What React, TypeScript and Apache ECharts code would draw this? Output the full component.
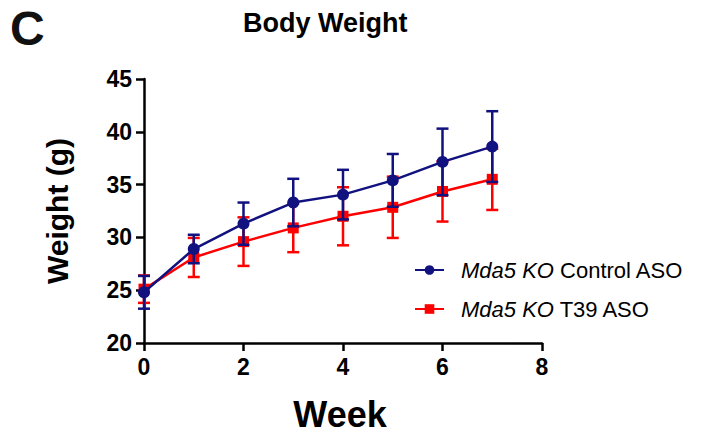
import React, { useEffect, useRef } from "react";
import * as echarts from "echarts";

const weeks = [0, 1, 2, 3, 4, 5, 6, 7];
const controlMean = [24.8, 28.9, 31.3, 33.3, 34.05, 35.4, 37.15, 38.6];
const controlSD = [1.55, 1.35, 2.0, 2.25, 2.35, 2.5, 3.15, 3.35];
const t39Mean = [25.1, 28.1, 29.6, 30.9, 32.0, 32.85, 34.35, 35.5];
const t39SD = [1.3, 1.85, 2.3, 2.3, 2.75, 2.9, 2.85, 2.9];
const yTicks = { min: 20, max: 45, interval: 5 };
const xTicks = { min: 0, max: 8, interval: 2 };

const seriesNames = ["Mda5 KO Control ASO", "Mda5 KO T39 ASO"];
const BLUE = "#11117f";
const RED = "#ff0000";
const FONT = "Liberation Sans, Arial, sans-serif";

function errData(mean: number[], sd: number[]) {
  return weeks.map((w, i) => [w, mean[i] - sd[i], mean[i] + sd[i]]);
}

function errRender(color: string) {
  return (params: any, api: any) => {
    const x = api.value(0);
    const lo = api.coord([x, api.value(1)]);
    const hi = api.coord([x, api.value(2)]);
    const cap = 6;
    const style = { stroke: color, lineWidth: 2.5 };
    return {
      type: "group",
      children: [
        { type: "line", shape: { x1: lo[0], y1: lo[1], x2: hi[0], y2: hi[1] }, style },
        { type: "line", shape: { x1: lo[0] - cap, y1: lo[1], x2: lo[0] + cap, y2: lo[1] }, style },
        { type: "line", shape: { x1: hi[0] - cap, y1: hi[1], x2: hi[0] + cap, y2: hi[1] }, style },
      ],
    };
  };
}

export default function App() {
  const ref = useRef<HTMLDivElement>(null);
  useEffect(() => {
    if (!ref.current) return;
    const chart = echarts.init(ref.current, undefined, { renderer: "svg" });
    const axisCommon = {
      axisLine: { show: true, lineStyle: { color: "#000", width: 2.5 } },
      axisTick: { show: true, length: 8, lineStyle: { color: "#000", width: 2.5 } },
      splitLine: { show: false },
      axisLabel: { color: "#000", fontSize: 23, fontWeight: "bold", fontFamily: FONT, margin: 12 },
      nameTextStyle: { color: "#000", fontWeight: "bold", fontFamily: FONT },
    };
    chart.setOption({
      animation: false,
      backgroundColor: "#fff",
      title: [
        { text: "C", left: 10, top: 4, padding: 0, textStyle: { fontSize: 48, fontWeight: "bold", fontFamily: FONT, color: "#111" } },
        { text: "Body Weight", left: 243, top: 9, padding: 0, textStyle: { fontSize: 27, fontWeight: "bold", fontFamily: FONT, color: "#000" } },
      ],
      grid: { left: 144, top: 79, width: 398, height: 265, containLabel: false },
      xAxis: {
        type: "value",
        min: xTicks.min,
        max: xTicks.max,
        interval: xTicks.interval,
        name: "Week",
        nameLocation: "middle",
        nameGap: 53,
        ...axisCommon,
        nameTextStyle: { ...axisCommon.nameTextStyle, fontSize: 36, padding: [0, 6, 0, 0] },
      },
      yAxis: {
        type: "value",
        min: yTicks.min,
        max: yTicks.max,
        interval: yTicks.interval,
        name: "Weight (g)",
        nameLocation: "middle",
        nameGap: 72,
        ...axisCommon,
        nameTextStyle: { ...axisCommon.nameTextStyle, fontSize: 30 },
      },
      legend: {
        orient: "vertical",
        left: 414,
        top: 259,
        padding: 0,
        itemGap: 17,
        itemWidth: 29,
        itemHeight: 12,
        data: seriesNames,
        formatter: (name: string) => `{s|}{i|Mda5 KO}${name.replace("Mda5 KO", "")}`,
        textStyle: {
          color: "#000",
          fontSize: 22,
          fontFamily: FONT,
          rich: {
            s: { width: 12 },
            i: { fontStyle: "italic", fontSize: 22, fontFamily: FONT, color: "#000" },
          },
        },
      },
      series: [
        {
          type: "custom",
          name: "t39err",
          renderItem: errRender(RED),
          data: errData(t39Mean, t39SD),
          encode: { x: 0, y: [1, 2] },
          z: 2,
        },
        {
          type: "line",
          name: seriesNames[1],
          data: weeks.map((w, i) => [w, t39Mean[i]]),
          symbol: "rect",
          symbolSize: 11,
          itemStyle: { color: RED },
          lineStyle: { color: RED, width: 2.5 },
          z: 3,
        },
        {
          type: "custom",
          name: "ctrlerr",
          renderItem: errRender(BLUE),
          data: errData(controlMean, controlSD),
          encode: { x: 0, y: [1, 2] },
          z: 4,
        },
        {
          type: "line",
          name: seriesNames[0],
          data: weeks.map((w, i) => [w, controlMean[i]]),
          symbol: "circle",
          symbolSize: 12,
          itemStyle: { color: BLUE },
          lineStyle: { color: BLUE, width: 2.5 },
          z: 5,
        },
      ],
    });
    return () => chart.dispose();
  }, []);
  return <div ref={ref} style={{ position: "fixed", left: 0, top: 0, width: 717, height: 437 }} />;
}
